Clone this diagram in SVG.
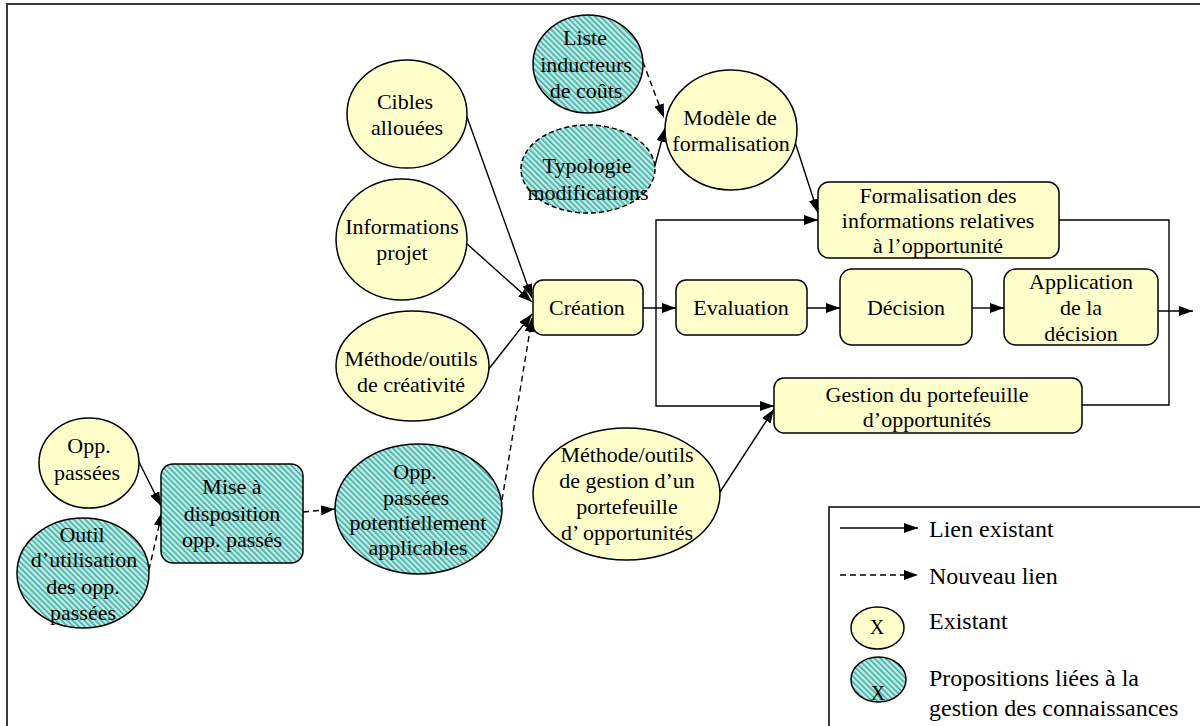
<svg xmlns="http://www.w3.org/2000/svg" width="1200" height="726" viewBox="0 0 1200 726">
  <defs>
    <pattern id="hatch" patternUnits="userSpaceOnUse" width="4" height="4" patternTransform="rotate(-45)">
      <rect width="4" height="4" fill="#c4ede8"/>
      <rect width="1.6" height="4" fill="#3aaea3"/>
    </pattern>
    <marker id="arr" viewBox="0 0 14 10" refX="14" refY="5" markerWidth="14" markerHeight="10" markerUnits="userSpaceOnUse" orient="auto">
      <path d="M0,0 L14,5 L0,10 z" fill="#000"/>
    </marker>
  </defs>
  <style>
    .yel { fill: #ffffcc; stroke: #000; stroke-width: 1.5; }
    .kno { fill: url(#hatch); stroke: #000; stroke-width: 1.5; }
    .dsh { stroke-dasharray: 5 3; }
    text { font-family: "Liberation Serif", "DejaVu Serif", "Times New Roman", serif; font-size: 22px; fill: #000; text-anchor: middle; }
    .leg { font-size: 24px; text-anchor: start; }
    .ln { fill: none; stroke: #000; stroke-width: 1.4; }
    .ln.d { stroke-dasharray: 6 4; }
  </style>

  <rect width="1200" height="726" fill="#fff"/>
  <!-- outer frame (continues past the right and bottom edges) -->
  <path d="M7,730 V4 H1204" fill="none" stroke="#3a3a3a" stroke-width="2"/>

  <!-- connectors -->
  <g id="connectors">
    <path class="ln" d="M467,117 L532,298" marker-end="url(#arr)"/>
    <path class="ln" d="M466,243 L532,302" marker-end="url(#arr)"/>
    <path class="ln" d="M488,370 L532,314" marker-end="url(#arr)"/>
    <path class="ln d" d="M502,500 L532,318" marker-end="url(#arr)"/>
    <path class="ln d" d="M643,62 L664,118" marker-end="url(#arr)"/>
    <path class="ln" d="M653,173 L665,128" marker-end="url(#arr)"/>
    <path class="ln" d="M795,142 L818,213" marker-end="url(#arr)"/>
    <path class="ln" d="M643,308 L676,308" marker-end="url(#arr)"/>
    <path class="ln" d="M807,308 L840,308" marker-end="url(#arr)"/>
    <path class="ln" d="M972,308 L1004,308" marker-end="url(#arr)"/>
    <path class="ln" d="M1158,311 L1193,311" marker-end="url(#arr)"/>
    <path class="ln" d="M656,308 V220 H818" marker-end="url(#arr)"/>
    <path class="ln" d="M656,308 V406 H774" marker-end="url(#arr)"/>
    <path class="ln" d="M1059,220 H1169 V405 H1082"/>
    <path class="ln" d="M720,492 L774,409" marker-end="url(#arr)"/>
    <path class="ln" d="M138,460 L161,506" marker-end="url(#arr)"/>
    <path class="ln d" d="M149,570 L162,512" marker-end="url(#arr)"/>
    <path class="ln d" d="M303,512 L335,509" marker-end="url(#arr)"/>
  </g>

  <g id="cibles">
    <ellipse class="yel" cx="407" cy="114" rx="60" ry="54"/>
    <text x="405" y="109">Cibles</text>
    <text x="407" y="135">allouées</text>
  </g>
  <g id="informations">
    <ellipse class="yel" cx="401.5" cy="239.5" rx="65.5" ry="60.5"/>
    <text x="402" y="234">Informations</text>
    <text x="402" y="260">projet</text>
  </g>
  <g id="methode-creativite">
    <ellipse class="yel" cx="412.5" cy="366" rx="76.5" ry="55"/>
    <text x="411" y="366">Méthode/outils</text>
    <text x="411" y="392">de créativité</text>
  </g>
  <g id="liste-inducteurs">
    <ellipse class="kno" cx="588" cy="64" rx="55" ry="49"/>
    <text x="585" y="45">Liste</text>
    <text x="586" y="72">inducteurs</text>
    <text x="586" y="98">de coûts</text>
  </g>
  <g id="typologie">
    <ellipse class="kno dsh" cx="588" cy="169" rx="67" ry="44"/>
    <text x="587" y="173">Typologie</text>
    <text x="588" y="200">modifications</text>
  </g>
  <g id="modele">
    <ellipse class="yel" cx="731" cy="130" rx="66" ry="60"/>
    <text x="730" y="125">Modèle de</text>
    <text x="731" y="151">formalisation</text>
  </g>
  <g id="formalisation">
    <rect class="yel" x="818" y="182" width="241" height="76" rx="11"/>
    <text x="938" y="203">Formalisation des</text>
    <text x="938" y="228">informations relatives</text>
    <text x="938" y="253">à l’opportunité</text>
  </g>
  <g id="creation">
    <rect class="yel" x="533" y="280" width="110" height="55" rx="10"/>
    <text x="587" y="315">Création</text>
  </g>
  <g id="evaluation">
    <rect class="yel" x="676" y="280" width="131" height="55" rx="10"/>
    <text x="741" y="315">Evaluation</text>
  </g>
  <g id="decision">
    <rect class="yel" x="840" y="269" width="132" height="76" rx="12"/>
    <text x="906" y="315">Décision</text>
  </g>
  <g id="application">
    <rect class="yel" x="1004" y="269" width="154" height="76" rx="12"/>
    <text x="1081" y="289">Application</text>
    <text x="1081" y="315">de la</text>
    <text x="1081" y="341">décision</text>
  </g>
  <g id="gestion-portefeuille">
    <rect class="yel" x="774" y="378" width="308" height="55" rx="10"/>
    <text x="927" y="402">Gestion du portefeuille</text>
    <text x="927" y="427">d’opportunités</text>
  </g>
  <g id="methode-gestion">
    <ellipse class="yel" cx="626.5" cy="494" rx="93.5" ry="66"/>
    <text x="627" y="462">Méthode/outils</text>
    <text x="627" y="488">de gestion d’un</text>
    <text x="627" y="514">portefeuille</text>
    <text x="627" y="540">d’ opportunités</text>
  </g>
  <g id="opp-passees">
    <ellipse class="yel" cx="89" cy="463" rx="50" ry="45"/>
    <text x="89" y="453">Opp.</text>
    <text x="87" y="480">passées</text>
  </g>
  <g id="outil-utilisation">
    <ellipse class="kno" cx="83" cy="573" rx="66" ry="55"/>
    <text x="82" y="542">Outil</text>
    <text x="84" y="567">d’utilisation</text>
    <text x="83" y="594">des opp.</text>
    <text x="83" y="620">passées</text>
  </g>
  <g id="mise-disposition">
    <rect class="kno" x="161" y="464" width="142" height="99" rx="12"/>
    <text x="232" y="494">Mise à</text>
    <text x="232" y="521">disposition</text>
    <text x="232" y="547">opp. passés</text>
  </g>
  <g id="opp-potentielles">
    <ellipse class="kno" cx="418.5" cy="509" rx="83.5" ry="65"/>
    <text x="415" y="479">Opp.</text>
    <text x="416" y="505">passées</text>
    <text x="418" y="530">potentiellement</text>
    <text x="418" y="555">applicables</text>
  </g>

  <!-- legend -->
  <g id="legend">
    <path d="M829,730 V507 H1204" fill="none" stroke="#000" stroke-width="1.5"/>
    <path class="ln" d="M840,528 H918" marker-end="url(#arr)"/>
    <text class="leg" x="929" y="537">Lien existant</text>
    <path class="ln d" d="M840,575 H918" marker-end="url(#arr)"/>
    <text class="leg" x="929" y="584">Nouveau lien</text>
    <ellipse class="yel" cx="877.5" cy="628" rx="26.5" ry="21"/>
    <text x="877" y="634" style="font-size:20px">X</text>
    <text class="leg" x="929" y="629">Existant</text>
    <ellipse class="kno" cx="878.5" cy="679.5" rx="27.5" ry="22.5"/>
    <text x="878" y="700" style="font-size:20px">X</text>
    <text class="leg" x="929" y="686">Propositions liées à la</text>
    <text class="leg" x="929" y="716">gestion des connaissances</text>
  </g>
</svg>
